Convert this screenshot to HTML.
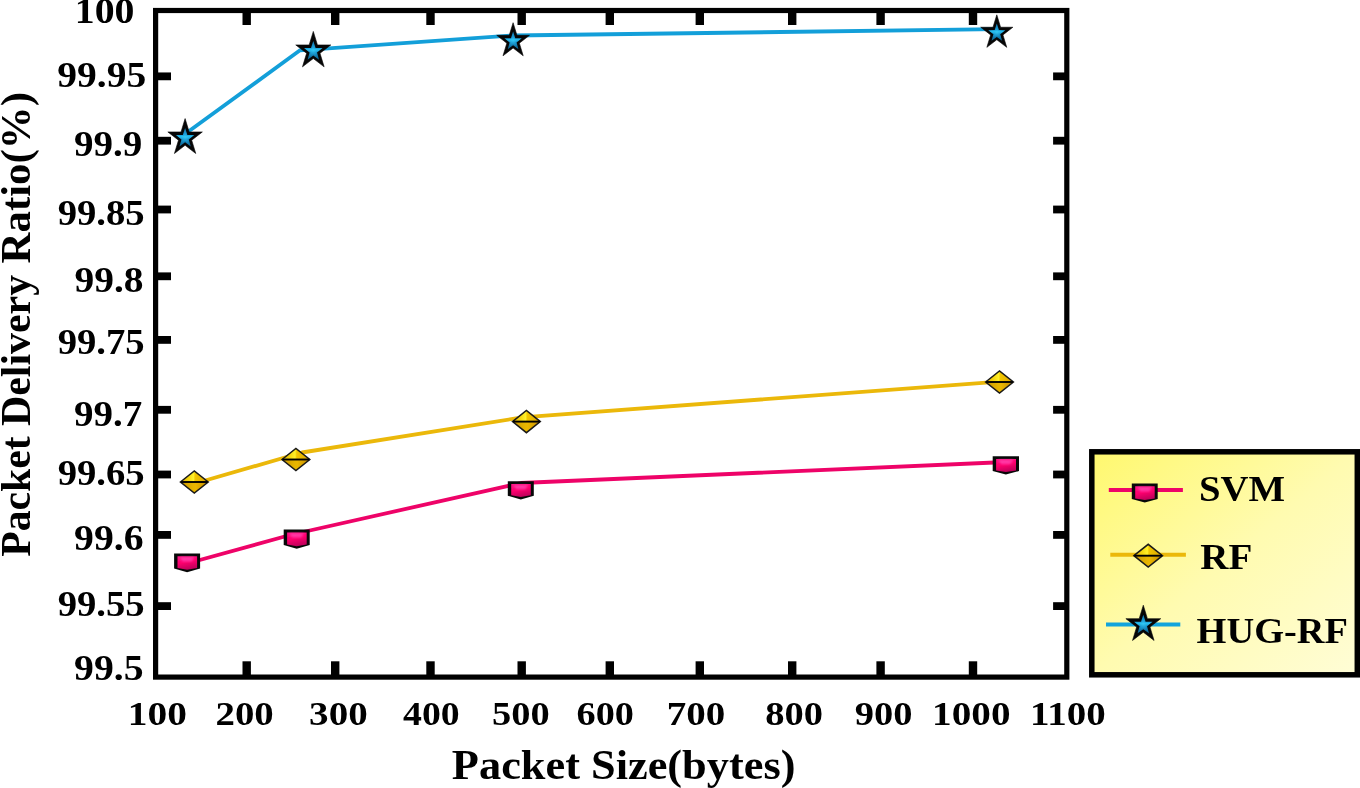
<!DOCTYPE html><html><head><meta charset="utf-8"><title>Packet Delivery Ratio</title>
<style>html,body{margin:0;padding:0;background:#fff;width:1360px;height:788px;overflow:hidden}svg{display:block}</style></head><body>
<svg width="1360" height="788" viewBox="0 0 1360 788">
<defs>
<filter id="fSoft" x="-20%" y="-20%" width="140%" height="140%"><feGaussianBlur stdDeviation="0.5"/></filter>
<filter id="fSoft2" x="-30%" y="-30%" width="160%" height="160%"><feGaussianBlur stdDeviation="0.9"/></filter>
<linearGradient id="gStar" x1="0" y1="0" x2="0" y2="1">
<stop offset="0" stop-color="#127bb4"/><stop offset="0.36" stop-color="#1898d2"/><stop offset="0.47" stop-color="#26bff0"/><stop offset="0.6" stop-color="#1693cc"/><stop offset="1" stop-color="#0b6290"/></linearGradient>
<radialGradient id="gStarH" cx="0.5" cy="0.5" r="0.5">
<stop offset="0" stop-color="#3fd2fa" stop-opacity="0.55"/><stop offset="1" stop-color="#20b4e8" stop-opacity="0"/></radialGradient>
<linearGradient id="gDiaT" x1="0" y1="0" x2="1" y2="0">
<stop offset="0" stop-color="#e2b000"/><stop offset="0.3" stop-color="#f6d810"/><stop offset="0.47" stop-color="#fff02a"/><stop offset="0.53" stop-color="#f2c600"/><stop offset="1" stop-color="#d9a200"/></linearGradient>
<linearGradient id="gDiaB" x1="0" y1="0" x2="1" y2="0">
<stop offset="0" stop-color="#c89400"/><stop offset="0.45" stop-color="#e6b400"/><stop offset="0.55" stop-color="#eab600"/><stop offset="1" stop-color="#c48c00"/></linearGradient>
<linearGradient id="gSvm" x1="0" y1="0" x2="0.3" y2="1">
<stop offset="0" stop-color="#ff1488"/><stop offset="0.5" stop-color="#ff006e"/><stop offset="1" stop-color="#c4005c"/></linearGradient>
<linearGradient id="gLeg" x1="0" y1="0" x2="1" y2="1">
<stop offset="0" stop-color="#fff86e"/><stop offset="0.5" stop-color="#fffbb0"/><stop offset="1" stop-color="#fffdd6"/></linearGradient>
</defs>
<rect x="155.60" y="10.50" width="911.20" height="666.60" fill="#fff" stroke="#000" stroke-width="5.20"/>
<rect x="242.50" y="12" width="8.4" height="13" fill="#000"/>
<rect x="242.50" y="661.3" width="8.4" height="14" fill="#000"/>
<rect x="331.00" y="12" width="8.4" height="13" fill="#000"/>
<rect x="331.00" y="661.3" width="8.4" height="14" fill="#000"/>
<rect x="426.30" y="12" width="8.4" height="13" fill="#000"/>
<rect x="426.30" y="661.3" width="8.4" height="14" fill="#000"/>
<rect x="517.50" y="12" width="8.4" height="13" fill="#000"/>
<rect x="517.50" y="661.3" width="8.4" height="14" fill="#000"/>
<rect x="605.60" y="12" width="8.4" height="13" fill="#000"/>
<rect x="605.60" y="661.3" width="8.4" height="14" fill="#000"/>
<rect x="695.60" y="12" width="8.4" height="13" fill="#000"/>
<rect x="695.60" y="661.3" width="8.4" height="14" fill="#000"/>
<rect x="788.00" y="12" width="8.4" height="13" fill="#000"/>
<rect x="788.00" y="661.3" width="8.4" height="14" fill="#000"/>
<rect x="876.40" y="12" width="8.4" height="13" fill="#000"/>
<rect x="876.40" y="661.3" width="8.4" height="14" fill="#000"/>
<rect x="968.80" y="12" width="8.4" height="13" fill="#000"/>
<rect x="968.80" y="661.3" width="8.4" height="14" fill="#000"/>
<rect x="157" y="72.45" width="14" height="7.8" fill="#000"/>
<rect x="1053.1" y="72.45" width="12" height="7.8" fill="#000"/>
<rect x="157" y="136.80" width="14" height="7.8" fill="#000"/>
<rect x="1053.1" y="136.80" width="12" height="7.8" fill="#000"/>
<rect x="157" y="205.60" width="14" height="7.8" fill="#000"/>
<rect x="1053.1" y="205.60" width="12" height="7.8" fill="#000"/>
<rect x="157" y="272.40" width="14" height="7.8" fill="#000"/>
<rect x="1053.1" y="272.40" width="12" height="7.8" fill="#000"/>
<rect x="157" y="336.00" width="14" height="7.8" fill="#000"/>
<rect x="1053.1" y="336.00" width="12" height="7.8" fill="#000"/>
<rect x="157" y="405.90" width="14" height="7.8" fill="#000"/>
<rect x="1053.1" y="405.90" width="12" height="7.8" fill="#000"/>
<rect x="157" y="470.60" width="14" height="7.8" fill="#000"/>
<rect x="1053.1" y="470.60" width="12" height="7.8" fill="#000"/>
<rect x="157" y="531.00" width="14" height="7.8" fill="#000"/>
<rect x="1053.1" y="531.00" width="12" height="7.8" fill="#000"/>
<rect x="157" y="602.20" width="14" height="7.8" fill="#000"/>
<rect x="1053.1" y="602.20" width="12" height="7.8" fill="#000"/>
<polyline points="187.00,563.50 292.00,534.50 521.00,483.00 1006.00,462.00" fill="none" stroke="#ee0368" stroke-width="3.8" stroke-linejoin="round"/>
<polyline points="194.00,483.80 302.00,452.50 522.00,417.40 999.50,381.60" fill="none" stroke="#ebb80a" stroke-width="3.8" stroke-linejoin="round"/>
<polyline points="185.00,134.00 300.00,50.30 513.00,35.50 997.00,29.20" fill="none" stroke="#139fd9" stroke-width="3.8" stroke-linejoin="round"/>
<path d="M174.10 553.40H200.10V568.50L187.10 572.20L174.10 568.50Z" fill="#080808"/>
<path d="M177.50 556.20H197.10V567.90L187.10 569.80L177.50 567.90Z" fill="url(#gSvm)" filter="url(#fSoft)"/>
<path d="M179.60 557.00H194.60L191.60 561.40H182.60Z" fill="#ff48b4" opacity="0.75" filter="url(#fSoft2)"/>
<path d="M283.70 529.60H309.70V545.00L296.70 548.70L283.70 545.00Z" fill="#080808"/>
<path d="M287.10 532.40H306.70V544.40L296.70 546.30L287.10 544.40Z" fill="url(#gSvm)" filter="url(#fSoft)"/>
<path d="M289.20 533.20H304.20L301.20 537.60H292.20Z" fill="#ff48b4" opacity="0.75" filter="url(#fSoft2)"/>
<path d="M507.80 481.30H533.80V495.80L520.80 499.50L507.80 495.80Z" fill="#080808"/>
<path d="M511.20 484.10H530.80V495.20L520.80 497.10L511.20 495.20Z" fill="url(#gSvm)" filter="url(#fSoft)"/>
<path d="M513.30 484.90H528.30L525.30 489.30H516.30Z" fill="#ff48b4" opacity="0.75" filter="url(#fSoft2)"/>
<path d="M992.70 456.20H1019.00V471.10L1005.85 474.50L992.70 471.10Z" fill="#080808"/>
<path d="M996.10 459.00H1016.00V470.50L1005.85 472.10L996.10 470.50Z" fill="url(#gSvm)" filter="url(#fSoft)"/>
<path d="M998.20 459.80H1013.50L1010.35 464.20H1001.35Z" fill="#ff48b4" opacity="0.75" filter="url(#fSoft2)"/>
<path d="M180.40 482.00L194.30 470.90L208.20 482.00Z" fill="url(#gDiaT)"/>
<path d="M180.40 482.00L194.30 493.10L208.20 482.00Z" fill="url(#gDiaB)"/>
<path d="M180.40 482.00L194.30 470.90L208.20 482.00L194.30 493.10Z" fill="none" stroke="#1a1a1a" stroke-width="1.5" stroke-linejoin="miter"/>
<line x1="180.90" y1="482.00" x2="207.70" y2="482.00" stroke="#000" stroke-width="1.9"/>
<path d="M282.00 459.50L295.90 448.40L309.80 459.50Z" fill="url(#gDiaT)"/>
<path d="M282.00 459.50L295.90 470.60L309.80 459.50Z" fill="url(#gDiaB)"/>
<path d="M282.00 459.50L295.90 448.40L309.80 459.50L295.90 470.60Z" fill="none" stroke="#1a1a1a" stroke-width="1.5" stroke-linejoin="miter"/>
<line x1="282.50" y1="459.50" x2="309.30" y2="459.50" stroke="#000" stroke-width="1.9"/>
<path d="M512.50 421.60L526.40 410.50L540.30 421.60Z" fill="url(#gDiaT)"/>
<path d="M512.50 421.60L526.40 432.70L540.30 421.60Z" fill="url(#gDiaB)"/>
<path d="M512.50 421.60L526.40 410.50L540.30 421.60L526.40 432.70Z" fill="none" stroke="#1a1a1a" stroke-width="1.5" stroke-linejoin="miter"/>
<line x1="513.00" y1="421.60" x2="539.80" y2="421.60" stroke="#000" stroke-width="1.9"/>
<path d="M985.60 382.00L999.50 370.90L1013.40 382.00Z" fill="url(#gDiaT)"/>
<path d="M985.60 382.00L999.50 393.10L1013.40 382.00Z" fill="url(#gDiaB)"/>
<path d="M985.60 382.00L999.50 370.90L1013.40 382.00L999.50 393.10Z" fill="none" stroke="#1a1a1a" stroke-width="1.5" stroke-linejoin="miter"/>
<line x1="986.10" y1="382.00" x2="1012.90" y2="382.00" stroke="#000" stroke-width="1.9"/>
<polygon points="185.10,118.60 189.17,131.94 202.35,131.94 191.69,140.18 195.76,153.51 185.10,145.27 174.44,153.51 178.51,140.18 167.85,131.94 181.03,131.94" fill="#060606" stroke="#060606" stroke-width="0.6" stroke-linejoin="miter"/>
<polygon points="185.10,127.97 187.36,134.89 194.24,135.04 188.76,139.46 190.75,146.48 185.10,142.29 179.45,146.48 181.44,139.46 175.96,135.04 182.84,134.89" fill="url(#gStar)"/>
<polygon points="185.10,131.04 186.68,135.88 191.50,135.99 187.66,139.09 189.06,143.99 185.10,141.06 181.14,143.99 182.54,139.09 178.70,135.99 183.52,135.88" fill="url(#gStarH)"/>
<polygon points="313.30,31.40 317.44,44.94 330.82,44.94 319.99,53.31 324.13,66.86 313.30,58.49 302.47,66.86 306.61,53.31 295.78,44.94 309.16,44.94" fill="#060606" stroke="#060606" stroke-width="0.6" stroke-linejoin="miter"/>
<polygon points="313.30,40.91 315.60,47.94 322.59,48.09 317.01,52.58 319.04,59.70 313.30,55.46 307.56,59.70 309.59,52.58 304.01,48.09 311.00,47.94" fill="url(#gStar)"/>
<polygon points="313.30,44.03 314.91,48.95 319.80,49.05 315.90,52.20 317.32,57.18 313.30,54.21 309.28,57.18 310.70,52.20 306.80,49.05 311.69,48.95" fill="url(#gStarH)"/>
<polygon points="513.10,22.70 516.96,35.34 529.46,35.34 519.35,43.16 523.21,55.81 513.10,47.99 502.99,55.81 506.85,43.16 496.74,35.34 509.24,35.34" fill="#060606" stroke="#060606" stroke-width="0.6" stroke-linejoin="miter"/>
<polygon points="513.10,31.60 515.24,38.16 521.77,38.30 516.57,42.50 518.46,49.15 513.10,45.18 507.74,49.15 509.63,42.50 504.43,38.30 510.96,38.16" fill="url(#gStar)"/>
<polygon points="513.10,34.51 514.60,39.10 519.17,39.20 515.53,42.14 516.85,46.79 513.10,44.02 509.35,46.79 510.67,42.14 507.03,39.20 511.60,39.10" fill="url(#gStarH)"/>
<polygon points="996.80,14.80 1000.60,27.24 1012.89,27.24 1002.95,34.92 1006.75,47.36 996.80,39.68 986.85,47.36 990.65,34.92 980.71,27.24 993.00,27.24" fill="#060606" stroke="#060606" stroke-width="0.6" stroke-linejoin="miter"/>
<polygon points="996.80,23.56 998.91,30.01 1005.33,30.15 1000.21,34.28 1002.07,40.82 996.80,36.92 991.53,40.82 993.39,34.28 988.27,30.15 994.69,30.01" fill="url(#gStar)"/>
<polygon points="996.80,26.42 998.28,30.94 1002.77,31.04 999.19,33.93 1000.49,38.50 996.80,35.77 993.11,38.50 994.41,33.93 990.83,31.04 995.32,30.94" fill="url(#gStarH)"/>
<rect x="1091.8" y="451.8" width="265.5" height="223" fill="url(#gLeg)" stroke="#000" stroke-width="5.5"/>
<line x1="1108.8" y1="490.1" x2="1182.9" y2="490.1" stroke="#ee0368" stroke-width="4.0"/>
<path d="M1131.80 483.40H1157.70V499.00L1144.75 502.50L1131.80 499.00Z" fill="#080808"/>
<path d="M1135.20 486.20H1154.70V498.40L1144.75 500.10L1135.20 498.40Z" fill="url(#gSvm)" filter="url(#fSoft)"/>
<path d="M1137.30 487.00H1152.20L1149.25 491.40H1140.25Z" fill="#ff48b4" opacity="0.75" filter="url(#fSoft2)"/>
<line x1="1110.3" y1="554.8" x2="1185.9" y2="554.8" stroke="#ebb80a" stroke-width="4.0"/>
<path d="M1133.90 555.70L1148.20 544.30L1162.50 555.70Z" fill="url(#gDiaT)"/>
<path d="M1133.90 555.70L1148.20 567.10L1162.50 555.70Z" fill="url(#gDiaB)"/>
<path d="M1133.90 555.70L1148.20 544.30L1162.50 555.70L1148.20 567.10Z" fill="none" stroke="#1a1a1a" stroke-width="1.5" stroke-linejoin="miter"/>
<line x1="1134.40" y1="555.70" x2="1162.00" y2="555.70" stroke="#000" stroke-width="1.9"/>
<line x1="1106" y1="624.5" x2="1180.3" y2="624.5" stroke="#12a4dc" stroke-width="4.0"/>
<polygon points="1143.30,605.20 1147.42,618.67 1160.73,618.67 1149.96,627.00 1154.07,640.48 1143.30,632.15 1132.53,640.48 1136.64,627.00 1125.87,618.67 1139.18,618.67" fill="#060606" stroke="#060606" stroke-width="0.6" stroke-linejoin="miter"/>
<polygon points="1143.30,614.66 1145.58,621.66 1152.54,621.81 1147.00,626.28 1149.01,633.36 1143.30,629.13 1137.59,633.36 1139.60,626.28 1134.06,621.81 1141.02,621.66" fill="url(#gStar)"/>
<polygon points="1143.30,617.77 1144.90,622.66 1149.77,622.76 1145.89,625.89 1147.30,630.85 1143.30,627.89 1139.30,630.85 1140.71,625.89 1136.83,622.76 1141.70,622.66" fill="url(#gStarH)"/>
<text x="127.76" y="725.00" font-family="'Liberation Serif','Times New Roman',serif" font-weight="bold" font-size="34.00" textLength="59.10" lengthAdjust="spacingAndGlyphs">100</text>
<text x="215.53" y="725.00" font-family="'Liberation Serif','Times New Roman',serif" font-weight="bold" font-size="34.00" textLength="58.26" lengthAdjust="spacingAndGlyphs">200</text>
<text x="309.11" y="725.00" font-family="'Liberation Serif','Times New Roman',serif" font-weight="bold" font-size="34.00" textLength="58.57" lengthAdjust="spacingAndGlyphs">300</text>
<text x="403.10" y="725.00" font-family="'Liberation Serif','Times New Roman',serif" font-weight="bold" font-size="34.00" textLength="56.65" lengthAdjust="spacingAndGlyphs">400</text>
<text x="492.11" y="725.00" font-family="'Liberation Serif','Times New Roman',serif" font-weight="bold" font-size="34.00" textLength="57.68" lengthAdjust="spacingAndGlyphs">500</text>
<text x="576.53" y="725.00" font-family="'Liberation Serif','Times New Roman',serif" font-weight="bold" font-size="34.00" textLength="57.41" lengthAdjust="spacingAndGlyphs">600</text>
<text x="666.76" y="725.00" font-family="'Liberation Serif','Times New Roman',serif" font-weight="bold" font-size="34.00" textLength="58.53" lengthAdjust="spacingAndGlyphs">700</text>
<text x="765.32" y="725.00" font-family="'Liberation Serif','Times New Roman',serif" font-weight="bold" font-size="34.00" textLength="57.72" lengthAdjust="spacingAndGlyphs">800</text>
<text x="854.85" y="725.00" font-family="'Liberation Serif','Times New Roman',serif" font-weight="bold" font-size="34.00" textLength="57.74" lengthAdjust="spacingAndGlyphs">900</text>
<text x="932.14" y="725.00" font-family="'Liberation Serif','Times New Roman',serif" font-weight="bold" font-size="34.00" textLength="78.35" lengthAdjust="spacingAndGlyphs">1000</text>
<text x="1030.02" y="725.00" font-family="'Liberation Serif','Times New Roman',serif" font-weight="bold" font-size="34.00" textLength="75.80" lengthAdjust="spacingAndGlyphs">1100</text>
<text x="74.76" y="23.20" font-family="'Liberation Serif','Times New Roman',serif" font-weight="bold" font-size="35.00" textLength="59.66" lengthAdjust="spacingAndGlyphs">100</text>
<text x="57.36" y="87.00" font-family="'Liberation Serif','Times New Roman',serif" font-weight="bold" font-size="35.00" textLength="88.90" lengthAdjust="spacingAndGlyphs">99.95</text>
<text x="74.07" y="155.60" font-family="'Liberation Serif','Times New Roman',serif" font-weight="bold" font-size="35.00" textLength="68.28" lengthAdjust="spacingAndGlyphs">99.9</text>
<text x="57.65" y="224.50" font-family="'Liberation Serif','Times New Roman',serif" font-weight="bold" font-size="35.00" textLength="87.01" lengthAdjust="spacingAndGlyphs">99.85</text>
<text x="74.57" y="291.90" font-family="'Liberation Serif','Times New Roman',serif" font-weight="bold" font-size="35.00" textLength="69.00" lengthAdjust="spacingAndGlyphs">99.8</text>
<text x="57.65" y="354.20" font-family="'Liberation Serif','Times New Roman',serif" font-weight="bold" font-size="35.00" textLength="87.01" lengthAdjust="spacingAndGlyphs">99.75</text>
<text x="74.07" y="425.70" font-family="'Liberation Serif','Times New Roman',serif" font-weight="bold" font-size="35.00" textLength="68.26" lengthAdjust="spacingAndGlyphs">99.7</text>
<text x="57.65" y="485.00" font-family="'Liberation Serif','Times New Roman',serif" font-weight="bold" font-size="35.00" textLength="87.01" lengthAdjust="spacingAndGlyphs">99.65</text>
<text x="74.06" y="549.50" font-family="'Liberation Serif','Times New Roman',serif" font-weight="bold" font-size="35.00" textLength="69.51" lengthAdjust="spacingAndGlyphs">99.6</text>
<text x="57.65" y="616.30" font-family="'Liberation Serif','Times New Roman',serif" font-weight="bold" font-size="35.00" textLength="87.01" lengthAdjust="spacingAndGlyphs">99.55</text>
<text x="74.06" y="679.60" font-family="'Liberation Serif','Times New Roman',serif" font-weight="bold" font-size="35.00" textLength="69.51" lengthAdjust="spacingAndGlyphs">99.5</text>
<text x="451.89" y="778.80" font-family="'Liberation Serif','Times New Roman',serif" font-weight="bold" font-size="41.50" textLength="343.53" lengthAdjust="spacingAndGlyphs">Packet Size(bytes)</text>
<text x="1198.92" y="500.70" font-family="'Liberation Serif','Times New Roman',serif" font-weight="bold" font-size="36.00" textLength="86.12" lengthAdjust="spacingAndGlyphs">SVM</text>
<text x="1200.26" y="568.60" font-family="'Liberation Serif','Times New Roman',serif" font-weight="bold" font-size="35.00" textLength="52.10" lengthAdjust="spacingAndGlyphs">RF</text>
<text x="1196.59" y="642.50" font-family="'Liberation Serif','Times New Roman',serif" font-weight="bold" font-size="35.00" textLength="151.35" lengthAdjust="spacingAndGlyphs">HUG-RF</text>
<text transform="translate(29.50 556.81) rotate(-90) scale(1 1.03)" x="0" y="0" font-family="'Liberation Serif','Times New Roman',serif" font-weight="bold" font-size="41.50" textLength="120.32" lengthAdjust="spacingAndGlyphs">Packet</text>
<text transform="translate(29.50 425.91) rotate(-90) scale(1 1.03)" x="0" y="0" font-family="'Liberation Serif','Times New Roman',serif" font-weight="bold" font-size="41.50" textLength="151.01" lengthAdjust="spacingAndGlyphs">Delivery</text>
<text transform="translate(29.50 263.42) rotate(-90) scale(1 1.03)" x="0" y="0" font-family="'Liberation Serif','Times New Roman',serif" font-weight="bold" font-size="41.50" textLength="171.34" lengthAdjust="spacingAndGlyphs">Ratio(%)</text>
</svg></body></html>
